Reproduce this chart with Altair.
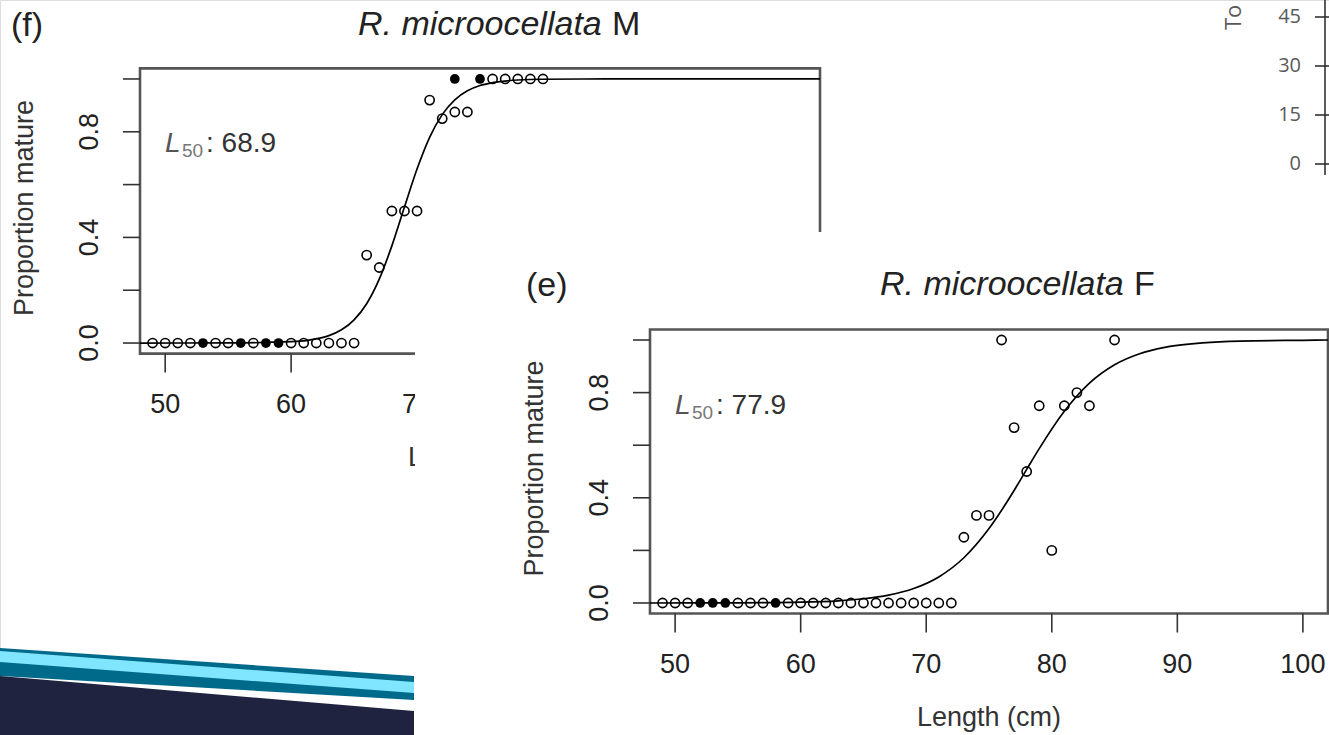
import altair as alt
import pandas as pd

W, H = 1329, 735
FONT = "Liberation Sans"

# ---------------- data: panel (f) R. microocellata M ----------------
f_zero_open_x = [49, 50, 51, 52, 54, 55, 57, 60, 61, 62, 63, 64, 65]
f_zero_filled_x = [53, 56, 58, 59]
f_open_x = [66, 67, 68, 69, 70, 71, 72, 73, 74, 76, 77, 78, 79, 80]
f_open_y = [0.333, 0.286, 0.5, 0.5, 0.5, 0.92, 0.85, 0.875, 0.875, 1, 1, 1, 1, 1]
f_filled_x = [73, 75]
f_filled_y = [1, 1]
f_curve_x = [48, 55, 60, 62, 63, 64, 65, 66, 67, 68, 69, 70, 71, 72, 73, 74, 75, 76, 78, 80, 85, 90, 102]
f_curve_y = [0.0, 0.0003, 0.005, 0.016, 0.028, 0.05, 0.088, 0.149, 0.242, 0.368, 0.515, 0.659,
             0.779, 0.865, 0.921, 0.955, 0.975, 0.986, 0.996, 0.999, 1.0, 1.0, 1.0]
f_l50 = "68.9"
f_x_labels = [50, 60, 70]          # the rest of panel (f)'s axis lies under panel (e)

# ---------------- data: panel (e) R. microocellata F ----------------
e_zero_open_x = [49, 50, 51, 55, 56, 57, 59, 60, 61, 62, 63, 64, 65, 66, 67, 68, 69, 70, 71, 72]
e_zero_filled_x = [52, 53, 54, 58]
e_open_x = [73, 74, 75, 76, 77, 78, 79, 80, 81, 82, 83, 85]
e_open_y = [0.25, 0.333, 0.333, 1.0, 0.667, 0.5, 0.75, 0.2, 0.75, 0.8, 0.75, 1.0]
e_curve_x = [48, 55, 60, 63, 65, 67, 69, 71, 73, 75, 77, 78, 79, 81, 83, 85, 87, 89, 92, 95, 100, 102]
e_curve_y = [0.0, 0.0007, 0.003, 0.008, 0.016, 0.03, 0.055, 0.099, 0.172, 0.283, 0.428, 0.508,
             0.587, 0.729, 0.836, 0.906, 0.948, 0.972, 0.989, 0.996, 0.999, 1.0]
e_l50 = "77.9"
e_x_labels = [50, 60, 70, 80, 90, 100]

# axis ticks / labels (shared by both panels)
x_ticks = [50, 60, 70, 80, 90, 100]
y_ticks = [0.0, 0.2, 0.4, 0.6, 0.8, 1.0]
y_labels = [0.0, 0.4, 0.8]
y_label_text = ["0.0", "0.4", "0.8"]

# partial chart at top right
tr_ticks = [0, 15, 30, 45]

# slide decoration (pixel vertices)
deco_x = [0, 414]
teal_top = [648, 676]
teal_bot = [676, 700]
cyan_top = [651, 682]
cyan_bot = [662, 693]
navy_top = [676, 711]
navy_bot = [735, 735]
cover_box = {"x": [415], "x2": [1329], "y": [232], "y2": [735]}


def txt(s, x, y, size=27, color="#222", style="normal", angle=0, align="left", baseline="alphabetic"):
    return alt.Chart(pd.DataFrame({"t": [s]})).mark_text(
        font=FONT, fontSize=size, color=color, fontStyle=style, angle=angle,
        align=align, baseline=baseline
    ).encode(x=alt.value(x), y=alt.value(y), text="t:N")


def panel(xr, yr, zero_open, zero_filled, open_x, open_y, filled_x, filled_y, cx, cy,
          x_labels, title_tail, title_x, title_base, letter, letter_x, letter_base, l50):
    xd, yd = [48, 102], [-0.04, 1.04]
    xs = alt.Scale(domain=xd, range=xr, zero=False, nice=False)
    ys = alt.Scale(domain=yd, range=yr, zero=False, nice=False)
    X = lambda f: alt.X(f, scale=xs, axis=None)
    Y = lambda f: alt.Y(f, scale=ys, axis=None)
    left, right = xr
    bottom, top = yr

    box = alt.Chart(pd.DataFrame({"x": [xd[0]], "x2": [xd[1]], "y": [yd[0]], "y2": [yd[1]]})).mark_rect(
        fillOpacity=0, stroke="#555", strokeWidth=2.6
    ).encode(x=X("x:Q"), x2="x2:Q", y=Y("y:Q"), y2="y2:Q")

    curve = alt.Chart(pd.DataFrame({"x": cx, "y": cy})).mark_line(
        color="black", strokeWidth=1.7, interpolate="monotone"
    ).encode(x=X("x:Q"), y=Y("y:Q"))

    odf = pd.DataFrame({"x": zero_open + open_x, "y": [0] * len(zero_open) + open_y})
    fdf = pd.DataFrame({"x": zero_filled + filled_x, "y": [0] * len(zero_filled) + filled_y})
    opts = alt.Chart(odf).mark_point(shape="circle", filled=False, color="black", size=85,
                                     strokeWidth=1.6, opacity=1).encode(x=X("x:Q"), y=Y("y:Q"))
    fpts = alt.Chart(fdf).mark_circle(color="black", size=95, opacity=1).encode(x=X("x:Q"), y=Y("y:Q"))

    yt = alt.Chart(pd.DataFrame({"v": y_ticks})).mark_rule(color="#333", strokeWidth=1.6).encode(
        y=Y("v:Q"), x=alt.value(left - 17), x2=alt.value(left))
    xt = alt.Chart(pd.DataFrame({"v": x_ticks})).mark_rule(color="#333", strokeWidth=1.6).encode(
        x=X("v:Q"), y=alt.value(bottom), y2=alt.value(bottom + 19))
    xl = alt.Chart(pd.DataFrame({"v": x_labels, "t": [str(v) for v in x_labels]})).mark_text(
        font=FONT, fontSize=27, color="#222", baseline="middle").encode(
        x=X("v:Q"), y=alt.value(bottom + 51), text="t:N")
    yl = alt.Chart(pd.DataFrame({"v": y_labels, "t": y_label_text})).mark_text(
        font=FONT, fontSize=27, color="#222", angle=270, baseline="middle").encode(
        y=Y("v:Q"), x=alt.value(left - 50), text="t:N")

    mid_x = (left + right) / 2
    mid_y = (bottom + top) / 2
    texts = [
        txt("Proportion mature", left - 115, mid_y - 3, angle=270, align="center", baseline="middle", color="#333"),
        txt("Length (cm)", mid_x, bottom + 104, align="center", baseline="middle", color="#333"),
        txt("R. microocellata", title_x, title_base, size=34, style="italic", color="#222"),
        txt(title_tail, title_x + 254, title_base, size=34, color="#222"),
        txt(letter, letter_x, letter_base, size=34, color="#222"),
        txt("L", left + 25, top + 84, size=28, style="italic", color="#555"),
        txt("50", left + 42, top + 89, size=19, color="#777"),
        txt(": " + l50, left + 66, top + 84, size=28, color="#333"),
    ]
    return alt.layer(box, curve, opts, fpts, yt, xt, xl, yl, *texts)


f_panel = panel([140, 820], [353.6, 68.4], f_zero_open_x, f_zero_filled_x, f_open_x, f_open_y,
                f_filled_x, f_filled_y, f_curve_x, f_curve_y, f_x_labels, "M", 358, 35, "(f)", 11, 36, f_l50)
e_panel = panel([650, 1328], [613.5, 329.5], e_zero_open_x, e_zero_filled_x, e_open_x, e_open_y,
                [], [], e_curve_x, e_curve_y, e_x_labels, "F", 880, 295, "(e)", 526, 296, e_l50)

# pixel-space layers: decoration and the white backing of the pasted (e) figure
pxs = alt.Scale(domain=[0, W], range=[0, W], zero=False, nice=False)
pys = alt.Scale(domain=[0, H], range=[0, H], zero=False, nice=False)


def band(top, bot, color):
    return alt.Chart(pd.DataFrame({"x": deco_x, "y": top, "y2": bot})).mark_area(color=color, opacity=1).encode(
        x=alt.X("x:Q", scale=pxs, axis=None), y=alt.Y("y:Q", scale=pys, axis=None), y2="y2:Q")


deco = alt.layer(band(teal_top, teal_bot, "#006a8a"), band(cyan_top, cyan_bot, "#80e6ff"),
                 band(navy_top, navy_bot, "#1f2340"))

cover = alt.Chart(pd.DataFrame(cover_box)).mark_rect(color="white", opacity=1).encode(
    x=alt.X("x:Q", scale=pxs, axis=None), x2="x2:Q", y=alt.Y("y:Q", scale=pys, axis=None), y2="y2:Q")

# partial chart at top right
trs = alt.Scale(domain=[0, 45], range=[164, 17], zero=False, nice=False)
tr_axis = alt.Chart(pd.DataFrame({"a": [0]})).mark_rule(color="#333", strokeWidth=1.6).encode(
    x=alt.value(1325), y=alt.value(0), y2=alt.value(175))
tr_ticks_l = alt.Chart(pd.DataFrame({"v": tr_ticks})).mark_rule(color="#333", strokeWidth=1.6).encode(
    y=alt.Y("v:Q", scale=trs, axis=None), x=alt.value(1315), x2=alt.value(1329))
tr_labels = alt.Chart(pd.DataFrame({"v": tr_ticks, "t": [str(v) for v in tr_ticks]})).mark_text(
    font="Open Sans", fontSize=20, color="#595959", align="right", baseline="middle").encode(
    y=alt.Y("v:Q", scale=trs, axis=None), x=alt.value(1301), text="t:N")
tr_title = alt.Chart(pd.DataFrame({"t": ["To"]})).mark_text(
    font="Open Sans", fontSize=22, color="#595959", angle=270, align="left", baseline="middle").encode(
    x=alt.value(1234), y=alt.value(30), text="t:N")
top_right = alt.layer(tr_axis, tr_ticks_l, tr_labels, tr_title)

chart = alt.layer(deco, f_panel, cover, e_panel, top_right).resolve_scale(
    x="independent", y="independent"
).properties(
    width=W, height=H, autosize=alt.AutoSizeParams(type="none"), padding=0
).configure_view(stroke="transparent").configure(background="white")

chart.save("out.html", embed_options={"renderer": "svg", "actions": False})
